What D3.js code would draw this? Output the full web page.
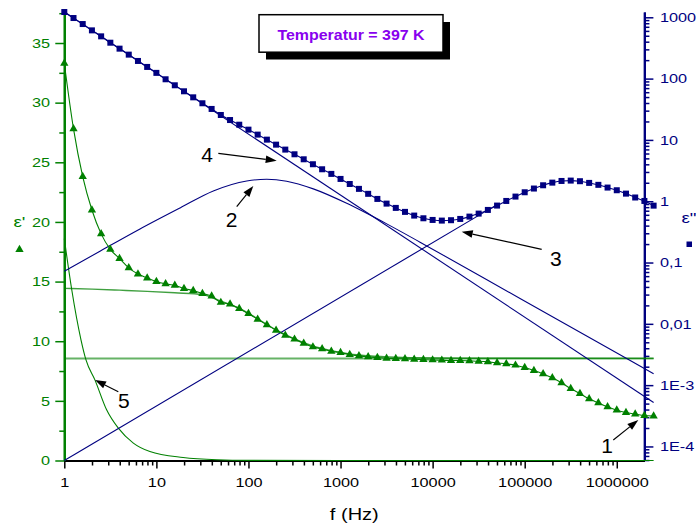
<!DOCTYPE html>
<html><head><meta charset="utf-8">
<script src="https://cdn.jsdelivr.net/npm/d3@7"></script>
<style>
html,body{margin:0;padding:0;background:#fff;}
svg{display:block;font-family:"Liberation Sans",Arial,Helvetica,sans-serif;}
</style></head><body>
<svg id="chart" width="696" height="526"></svg>
<script>
// Measurement frequencies (Hz), ten points per decade
const freq = [1,1.259,1.585,1.995,2.512,3.162,3.981,5.012,6.310,7.943,
  10,12.59,15.85,19.95,25.12,31.62,39.81,50.12,63.10,79.43,
  100,125.9,158.5,199.5,251.2,316.2,398.1,501.2,631.0,794.3,
  1000,1259,1585,1995,2512,3162,3981,5012,6310,7943,
  10000,12590,15850,19950,25120,31620,39810,50120,63100,79430,
  1e5,1.259e5,1.585e5,1.995e5,2.512e5,3.162e5,3.981e5,5.012e5,6.310e5,7.943e5,
  1e6,1.259e6,1.585e6,1.995e6,2.512e6];

// Real part of the permittivity, ε'
const epsReal = [33.3,27.8,23.8,21.0,19.0,17.7,16.93,16.15,15.63,15.3,
  15.0,14.81,14.69,14.42,14.24,14.0,13.78,13.25,13.12,12.73,
  12.31,11.84,11.37,10.92,10.50,10.17,9.83,9.52,9.36,9.16,
  9.04,8.88,8.77,8.69,8.63,8.57,8.54,8.52,8.49,8.46,
  8.43,8.41,8.38,8.38,8.35,8.32,8.27,8.18,8.10,7.99,
  7.79,7.54,7.26,6.93,6.51,6.03,5.61,5.17,4.83,4.50,
  4.22,4.02,3.89,3.77,3.72];

// Imaginary part of the permittivity, ε''
const epsImag = [1219,973,776,612,489,385,308,246,194,155,
  124,97.5,77.8,62.1,49.5,39.6,32.0,25.5,21.1,17.7,
  14.7,12.2,10.1,8.37,6.95,5.83,4.83,4.01,3.32,2.79,
  2.31,1.91,1.59,1.32,1.09,0.914,0.778,0.670,0.583,0.527,
  0.495,0.483,0.490,0.514,0.561,0.628,0.721,0.849,1.01,1.19,
  1.40,1.61,1.82,2.01,2.14,2.17,2.12,1.99,1.85,1.67,
  1.51,1.33,1.15,1.01,0.847];

// Model components, [f, value]
const fitStep = [[1,14.43],[2,14.37],[3.981,14.28],[7.943,14.18],[15.85,14.06],[31.62,13.92],
  [50.12,13.35],[79.43,12.75],[125.9,11.88],[199.5,10.95],[316.2,10.2],[501.2,9.6],
  [794.3,9.2],[1259,8.93],[1995,8.78],[3981,8.65],[10000,8.59],[31620,8.57],[2.512e6,8.56]];
const fitBase = [[1,8.55],[2.512e6,8.55]];
const fitElectrode = [[1,18.6],[1.2,14.4],[1.52,10.1],[1.72,8.43],[2.15,6.76],[2.88,4.25],
  [3.86,2.71],[5.62,1.46],[8.5,0.75],[19.5,0.25],[45.7,0.06],[100,0.01],[1000,0],[2.512e6,0]];
const fitPeak = [[1,0.0718],[2.44,0.153],[6.64,0.353],[18.1,0.778],[41.5,1.47],[95.7,2.14],
  [158,2.28],[260,2.12],[506,1.59],[1167,0.924],[1923,0.635],[3177,0.427],[7300,0.215],
  [89000,0.0259],[2.512e6,1.535e-3]];
const fitPower = [[1,5.9e-5],[50000,0.88]];
const fitCond = [[1,1220],[2.512e6,5.2e-4]];

// Axis ticks and labels
const xTicks = [1,10,100,1000,10000,100000,1000000];
const xTickLabels = ["1","10","100","1000","10000","100000","1000000"];
const yLTicks = [0,5,10,15,20,25,30,35];
const yLMinor = [2.5,7.5,12.5,17.5,22.5,27.5,32.5,37.5];
const yRTicks = [1e-4,1e-3,1e-2,1e-1,1,10,100,1000];
const yRTickLabels = ["1E-4","1E-3","0,01","0,1","1","10","100","1000"];

const GREEN = "#008000", NAVY = "#000080";
const svg = d3.select("#chart");

const x = d3.scaleLog().domain([1, 1995262]).range([64.3, 644.4]);
const yL = d3.scaleLinear().domain([0, 37.6]).range([460.5, 12]);
const yR = d3.scaleLog().domain([5.9e-5, 1220]).range([460.5, 12]);

const SX = 1.25; // horizontal stretch of axis lettering

// ---- axes ----
const xMinor = x.ticks().filter(v => !xTicks.includes(v));
const gxm = svg.append("g").attr("transform", "translate(0,460.5)")
  .call(d3.axisBottom(x).tickValues(xMinor).tickFormat("").tickSize(5).tickSizeOuter(0));
const gx = svg.append("g").attr("transform", "translate(0,460.5)")
  .call(d3.axisBottom(x).tickValues(xTicks).tickFormat((d,i)=>xTickLabels[i]).tickSize(8).tickSizeOuter(0));
[gxm, gx].forEach(g => {
  g.select(".domain").attr("stroke", "#000").attr("stroke-width", 2);
  g.selectAll(".tick line").attr("stroke", "#000").attr("stroke-width", 1.5);
});
gx.selectAll(".tick text").attr("font-size", 13).attr("fill", "#000")
  .attr("y", 17).attr("transform", `scale(${SX},1)`);

const gLm = svg.append("g").attr("transform", "translate(64.3,0)")
  .call(d3.axisLeft(yL).tickValues(yLMinor).tickFormat("").tickSize(5).tickSizeOuter(0));
const gL = svg.append("g").attr("transform", "translate(64.3,0)")
  .call(d3.axisLeft(yL).tickValues(yLTicks).tickSize(9).tickSizeOuter(0));
[gLm, gL].forEach(g => {
  g.select(".domain").attr("stroke", GREEN).attr("stroke-width", 2.2);
  g.selectAll(".tick line").attr("stroke", GREEN).attr("stroke-width", 1.5);
});
gL.selectAll(".tick text").attr("font-size", 13).attr("fill", GREEN)
  .attr("x", -14.3 / SX).attr("transform", `scale(${SX},1)`);

const yRMinor = yR.ticks().filter(v => !yRTicks.some(t => Math.abs(t - v) / t < 1e-6));
const gRm = svg.append("g").attr("transform", "translate(644.4,0)")
  .call(d3.axisRight(yR).tickValues(yRMinor).tickFormat("").tickSize(5).tickSizeOuter(0));
const gR = svg.append("g").attr("transform", "translate(644.4,0)")
  .call(d3.axisRight(yR).tickValues(yRTicks).tickFormat((d,i)=>yRTickLabels[i]).tickSize(9).tickSizeOuter(0));
[gRm, gR].forEach(g => {
  g.select(".domain").attr("stroke", NAVY).attr("stroke-width", 2.2);
  g.selectAll(".tick line").attr("stroke", NAVY).attr("stroke-width", 1.5);
});
gR.selectAll(".tick text").attr("font-size", 13).attr("fill", NAVY)
  .attr("x", 15.6 / SX).attr("transform", `scale(${SX},1)`);

function stretchedText(px, py, str, size, color, sx, anchor, weight) {
  return svg.append("text")
    .attr("transform", `translate(${px},${py}) scale(${sx},1)`)
    .attr("text-anchor", anchor || "start")
    .attr("font-size", size).attr("fill", color)
    .attr("font-weight", weight || "normal")
    .text(str);
}

// axis titles with their marker keys
stretchedText(354.3, 520, "f (Hz)", 16, "#000", SX, "middle");
stretchedText(13.5, 227, "ε'", 15, GREEN, SX);
svg.append("path").attr("transform", "translate(19.5,249.5)")
  .attr("d", d3.symbol(d3.symbolTriangle, 30)()).attr("fill", GREEN);
stretchedText(681.5, 223, "ε\"", 15, NAVY, SX);
svg.append("rect").attr("x", 686.5).attr("y", 241.5).attr("width", 5.5).attr("height", 5.5).attr("fill", NAVY);

// ---- model curves ----
const lineL = d3.line().x(d => x(d[0])).y(d => yL(d[1])).curve(d3.curveMonotoneX);
const lineR = d3.line().x(d => x(d[0])).y(d => yR(d[1])).curve(d3.curveMonotoneX);

svg.append("path").attr("d", lineL(fitBase)).attr("fill", "none")
  .attr("stroke", GREEN).attr("stroke-opacity", 0.6).attr("stroke-width", 1.8);
svg.append("path").attr("d", lineL(fitStep)).attr("fill", "none")
  .attr("stroke", GREEN).attr("stroke-opacity", 0.75).attr("stroke-width", 1.4);
svg.append("path").attr("d", lineL(fitElectrode)).attr("fill", "none")
  .attr("stroke", GREEN).attr("stroke-width", 1.1);

[fitPeak, fitPower, fitCond].forEach(c => {
  svg.append("path").attr("d", lineR(c)).attr("fill", "none")
    .attr("stroke", NAVY).attr("stroke-width", 1.1);
});

// ---- measured data ----
const realPts = freq.map((f, i) => [f, epsReal[i]]);
const imagPts = freq.map((f, i) => [f, epsImag[i]]);

svg.append("path").attr("d", lineL(realPts)).attr("fill", "none")
  .attr("stroke", GREEN).attr("stroke-width", 1.1);
svg.append("path").attr("d", lineR(imagPts)).attr("fill", "none")
  .attr("stroke", NAVY).attr("stroke-width", 1.1);

svg.append("g").selectAll("path").data(realPts).join("path")
  .attr("transform", d => `translate(${x(d[0])},${yL(d[1])})`)
  .attr("d", d3.symbol(d3.symbolTriangle, 30)()).attr("fill", GREEN);
svg.append("g").selectAll("rect").data(imagPts).join("rect")
  .attr("x", d => x(d[0]) - 3).attr("y", d => yR(d[1]) - 3)
  .attr("width", 6).attr("height", 6).attr("fill", NAVY);

// ---- title box ----
svg.append("rect").attr("x", 266).attr("y", 22).attr("width", 184).attr("height", 37.5).attr("fill", "#000");
svg.append("rect").attr("x", 259).attr("y", 14.7).attr("width", 184).attr("height", 37.5)
  .attr("fill", "#fff").attr("stroke", "#000").attr("stroke-width", 1.5);
stretchedText(351, 40, "Temperatur = 397 K", 14.5, "#8800ee", 1.1, "middle", "bold");

// ---- curve labels with arrows ----
const notes = [
  {t: "1", tx: 607, ty: 453, from: [613.3, 440], to: [638.3, 420]},
  {t: "2", tx: 231.7, ty: 226.5, from: [236.7, 206.7], to: [253.3, 186]},
  {t: "3", tx: 555.8, ty: 266, from: [541.7, 249.3], to: [461.7, 231.7]},
  {t: "4", tx: 207, ty: 162.3, from: [218.3, 153.3], to: [276.7, 160.7]},
  {t: "5", tx: 123.8, ty: 408, from: [118.3, 391.7], to: [95, 380]}
];
notes.forEach(n => {
  svg.append("text").attr("x", n.tx).attr("y", n.ty).attr("text-anchor", "middle")
    .attr("font-size", 21).attr("fill", "#000").text(n.t);
  const [x0, y0] = n.from, [x1, y1] = n.to;
  const a = Math.atan2(y1 - y0, x1 - x0), L = 11, W = 3.8;
  const bx = x1 - L * Math.cos(a), by = y1 - L * Math.sin(a);
  svg.append("line").attr("x1", x0).attr("y1", y0).attr("x2", bx).attr("y2", by)
    .attr("stroke", "#000").attr("stroke-width", 1.2);
  svg.append("path").attr("fill", "#000").attr("d",
    `M${x1},${y1}L${bx + W * Math.sin(a)},${by - W * Math.cos(a)}L${bx - W * Math.sin(a)},${by + W * Math.cos(a)}Z`);
});
</script>
</body></html>
